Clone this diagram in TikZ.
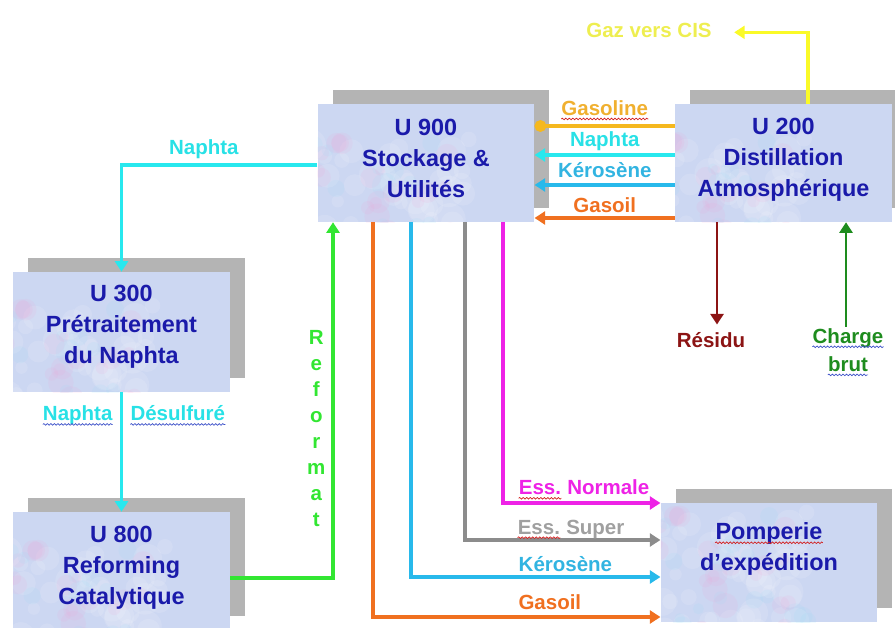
\documentclass[tikz,border=0pt]{standalone}
\usepackage{fontspec}
\setmainfont{Liberation Sans}
\usetikzlibrary{arrows.meta,shadows,decorations.pathmorphing}

\definecolor{unitblue}{RGB}{26,26,170}
\definecolor{boxfill}{RGB}{204,215,242}
\definecolor{shadowgrey}{RGB}{180,180,180}
\definecolor{gasolinecol}{RGB}{245,184,30}
\definecolor{gasolinetext}{RGB}{240,176,48}
\definecolor{naphtacol}{RGB}{40,232,238}
\definecolor{naphtatext}{RGB}{40,225,230}
\definecolor{kerocol}{RGB}{40,185,235}
\definecolor{kerotext}{RGB}{50,180,225}
\definecolor{gasoilcol}{RGB}{240,112,32}
\definecolor{gazcol}{RGB}{250,250,40}
\definecolor{gaztext}{RGB}{238,238,80}
\definecolor{residucol}{RGB}{140,20,20}
\definecolor{chargecol}{RGB}{30,140,30}
\definecolor{reformcol}{RGB}{50,230,50}
\definecolor{normalecol}{RGB}{238,34,230}
\definecolor{supercol}{RGB}{140,140,140}
\definecolor{supertext}{RGB}{160,160,160}
\definecolor{spellred}{RGB}{210,30,30}
\definecolor{spellblue}{RGB}{60,80,200}

% souligne ondule (correcteur)
\newcommand\spellwave[2]{\tikz[baseline=(w.base)]{%
  \node[inner sep=0pt, anchor=base] (w) {#2};
  \draw[wavy=#1] ([yshift=-3pt]w.base west) -- ([yshift=-3pt]w.base east);}}

\tikzset{
  unit/.style={fill=boxfill, minimum width=6.5cm, inner xsep=0pt, inner ysep=0pt,
    general shadow={fill=shadowgrey, shadow xshift=0.45cm, shadow yshift=0.42cm},
    align=center, text=unitblue, font=\fontsize{20}{26.5}\selectfont\bfseries,
    path picture={
      \pgfmathsetseed{11}
      \begin{scope}[shift={(path picture bounding box.center)}]
        \foreach \i in {1,...,60}
          \fill[white, opacity=0.12] (rand*110,rand*60) circle [radius=6+10*rnd];
        \foreach \i in {1,...,30}
          \fill[magenta!40, opacity=0.1] (rand*110,rand*60) circle [radius=5+8*rnd];
        \foreach \i in {1,...,30}
          \fill[cyan!40, opacity=0.12] (rand*110,rand*60) circle [radius=5+8*rnd];
      \end{scope}}},
  flow/.style={line width=3pt, -{Triangle[length=9pt,width=11pt]}},
  lbl/.style={inner sep=1pt, font=\fontsize{17.5}{21}\selectfont\bfseries},
  wavy/.style={#1, line width=.6pt, arrows=-, shorten >=0pt, shorten <=0pt, decorate,
    decoration={snake, amplitude=.7pt, segment length=3pt}}
}

\begin{document}
\begin{tikzpicture}[x=0.03cm, y=-0.03cm]
  \useasboundingbox (0,0) rectangle (895,628);

  \node[unit, text height=2.80cm, text depth=.74cm] (u900) at (426,163) {U 900\\Stockage \&\\Utilités};
  \node[unit, text height=2.78cm, text depth=.76cm] (u200) at (783.5,163) {U 200\\Distillation\\Atmosphérique};
  \node[unit, text height=2.75cm, text depth=.85cm] (u300) at (121.5,332) {U 300\\Prétraitement\\du Naphta};
  \node[unit, text height=2.78cm, text depth=.76cm] (u800) at (121.5,571) {U 800\\Reforming\\Catalytique};
  \node[unit, text height=2.02cm, text depth=1.55cm] (pomp) at (769,562.5) {Pomperie\\d’expédition};
  \draw[wavy=spellred] ([xshift=-46pt, yshift=-1.2cm]pomp.north) -- ([xshift=46pt, yshift=-1.2cm]pomp.north);

  \node[lbl, text=gaztext] (gaz) at (649,30) {Gaz vers CIS};
  \node[lbl, anchor=base, text=residucol] (residu) at (711,348) {Résidu};
  \node[lbl, anchor=north, align=center, text=chargecol,
    font=\fontsize{17.5}{24}\selectfont\bfseries] (charge) at (848,327) {\spellwave{spellblue}{Charge}\\\spellwave{spellblue}{brut}};

  % U 200 vers U 900
  \draw[flow, gasolinecol, -{Circle[length=10pt]}] (u200.west |- 0,126) -- (u900.east |- 0,126)
    node[lbl, midway, anchor=base, yshift=9pt, text=gasolinetext] {\spellwave{spellred}{Gasoline}};
  \draw[flow, naphtacol] (u200.west |- 0,155) -- (u900.east |- 0,155)
    node[lbl, midway, anchor=base, yshift=7pt, text=naphtatext] {Naphta};
  \draw[flow, kerocol] (u200.west |- 0,185) -- (u900.east |- 0,185)
    node[lbl, midway, anchor=base, yshift=6pt, text=kerotext] {Kérosène};
  \draw[flow, gasoilcol] (u200.west |- 0,218) -- (u900.east |- 0,218)
    node[lbl, midway, anchor=base, yshift=5pt, text=gasoilcol] {Gasoil};

  \draw[flow, gazcol, shorten >=18pt] (u200.north -| 808,0) |- ([yshift=-2pt]gaz.east);
  \draw[flow, residucol, line width=2.5pt, shorten >=6pt] (u200.south -| 717,0) -- (residu.north -| 717,0);
  \draw[flow, chargecol, line width=2.5pt] (charge.north -| 846,0) -- (u200.south -| 846,0);

  % naphta
  \draw[flow, naphtacol] (u900.west |- 0,165) -| (u300.north)
    node[lbl, pos=.29, anchor=base, yshift=9pt, text=naphtatext] {Naphta};
  \draw[flow, naphtacol] (u300.south) -- (u800.north)
    node[lbl, pos=.24, anchor=base east, xshift=-6pt, text=naphtatext] {\spellwave{spellblue}{Naphta}}
    node[lbl, pos=.24, anchor=base west, xshift=6pt, text=naphtatext] {\spellwave{spellblue}{Désulfuré}};

  \draw[flow, reformcol] ([yshift=-6pt]u800.east) -| (333,0 |- u900.south)
    node[lbl, pos=.71, left=4pt, align=center, text=reformcol,
      font=\fontsize{17.5}{22.2}\selectfont\bfseries] {R\\e\\f\\o\\r\\m\\a\\t};

  % U 900 vers expedition
  \draw[flow, gasoilcol] (373,0 |- u900.south) |- (pomp.west |- 0,617)
    node[lbl, pos=.748, anchor=base west, yshift=6pt, text=gasoilcol] {Gasoil};
  \draw[flow, kerocol] (411,0 |- u900.south) |- (pomp.west |- 0,577)
    node[lbl, pos=.71, anchor=base west, yshift=5pt, text=kerotext] {Kérosène};
  \draw[flow, supercol] (465,0 |- u900.south) |- (pomp.west |- 0,540)
    node[lbl, pos=.63, anchor=base west, yshift=5pt, text=supertext] {\spellwave{spellred}{Ess.} Super};
  \draw[flow, normalecol] (503,0 |- u900.south) |- (pomp.west |- 0,503)
    node[lbl, pos=.544, anchor=base west, yshift=7pt, text=normalecol] {\spellwave{spellred}{Ess.} Normale};
\end{tikzpicture}
\end{document}
